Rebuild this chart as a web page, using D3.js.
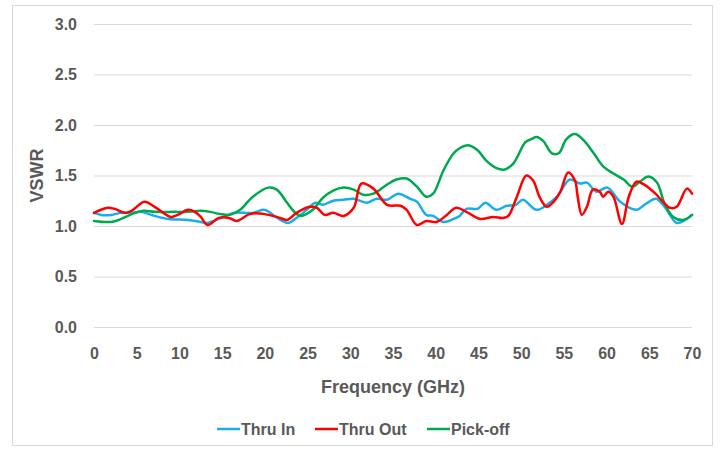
<!DOCTYPE html>
<html>
<head>
<meta charset="utf-8">
<script src="https://cdn.jsdelivr.net/npm/d3@7/dist/d3.min.js"></script>
<style>
  html, body { margin: 0; padding: 0; background: #fff; }
  svg { display: block; font-family: "Liberation Sans", Arial, sans-serif; font-weight: bold; }
</style>
</head>
<body>
<svg id="chart" width="720" height="449"></svg>
<script>
// ---- Data ----
const seriesNames = ["Thru In", "Thru Out", "Pick-off"];
const seriesColors = ["#1AAEE8", "#FF0000", "#00A94F"];

const thruInFreq = [0,0.85,2,3.2,4.5,5.5,7.1,8.7,11,12.5,13.3,14.3,15.2,16.3,18.6,19.8,20.3,21.3,22.7,23.7,24.9,25.9,26.8,28,29.2,30.4,31.9,33.1,34.3,35.6,37,37.8,38.9,39.7,40.9,42.1,42.8,43.6,44.9,45.8,47.1,48.3,49.4,50.2,51.8,53,54.2,55.7,56.9,57.7,58.8,60.1,61.6,63.5,64.6,65.8,66.8,68.2,69.2,70];
const thruIn     = [1.13,1.11,1.11,1.13,1.13,1.14,1.10,1.07,1.06,1.04,1.03,1.06,1.09,1.13,1.13,1.16,1.15,1.09,1.03,1.08,1.16,1.23,1.21,1.25,1.26,1.27,1.23,1.27,1.26,1.32,1.27,1.24,1.11,1.10,1.04,1.07,1.10,1.17,1.17,1.23,1.16,1.20,1.21,1.26,1.16,1.21,1.29,1.46,1.42,1.43,1.34,1.38,1.24,1.16,1.22,1.27,1.19,1.03,1.06,1.11];

const thruOutFreq = [0,1.6,2.4,3.6,4.4,5.9,7.1,9.0,9.8,11,11.8,12.5,13.3,14.6,15.8,16.7,18.3,19.8,21.8,22.6,23.7,25.3,26.1,27,28,29.2,30.4,31.3,32.7,34.3,35.9,36.6,37.8,38.9,40.1,41.3,42.4,43.6,45.2,46.7,47.9,48.5,49.5,50.6,51.4,52.2,53,53.8,54.6,55.5,56.3,56.6,57.1,57.7,58.4,59.2,59.6,60.2,60.8,61.8,62.6,63.5,64.4,65.6,66.6,67.4,68.2,69.4,70];
const thruOut     = [1.13,1.18,1.17,1.13,1.15,1.24,1.19,1.09,1.11,1.16,1.14,1.09,1.01,1.08,1.08,1.05,1.12,1.12,1.08,1.06,1.13,1.19,1.18,1.11,1.13,1.10,1.18,1.42,1.37,1.21,1.20,1.16,1.01,1.05,1.04,1.11,1.18,1.14,1.07,1.09,1.08,1.10,1.29,1.50,1.45,1.28,1.19,1.24,1.34,1.53,1.45,1.30,1.11,1.19,1.36,1.34,1.29,1.34,1.29,1.02,1.29,1.44,1.41,1.33,1.24,1.18,1.19,1.37,1.32];

const pickOffFreq = [0,2,3.2,4.8,5.8,7.1,9.4,11,12.5,13.6,14.7,15.9,17.1,18.6,20.4,21.4,22.6,23.7,24.3,25.6,26.8,28,29.2,30.4,31.5,32.7,34.3,35.4,36.6,37.8,38.9,39.7,40.9,42.1,42.8,43.8,44.9,46,47.2,48.1,49.1,50.5,51.2,51.8,52.6,53.6,54.4,55.3,56.3,57.3,58.5,59.6,60.8,62,63,63.9,64.9,65.9,66.8,67.8,69,70];
const pickOff     = [1.05,1.04,1.07,1.13,1.15,1.14,1.14,1.14,1.15,1.14,1.12,1.11,1.16,1.29,1.38,1.36,1.23,1.12,1.10,1.16,1.28,1.35,1.38,1.36,1.31,1.32,1.41,1.46,1.47,1.39,1.29,1.32,1.55,1.72,1.77,1.80,1.75,1.64,1.57,1.56,1.62,1.83,1.86,1.88,1.84,1.72,1.72,1.86,1.91,1.85,1.72,1.59,1.52,1.46,1.39,1.44,1.49,1.43,1.22,1.09,1.06,1.11];

const xTicks = [0,5,10,15,20,25,30,35,40,45,50,55,60,65,70];
const yTicks = [0,0.5,1.0,1.5,2.0,2.5,3.0];
const xTitle = "Frequency (GHz)";
const yTitle = "VSWR";

// ---- Drawing ----
const svg = d3.select("#chart");
const textColor = "#595959";
const gridColor = "#D9D9D9";

svg.append("rect")
  .attr("x", 12.5).attr("y", 5.5).attr("width", 700).attr("height", 440)
  .attr("fill", "none").attr("stroke", gridColor).attr("stroke-width", 1);

const x = d3.scaleLinear().domain([0, 70]).range([94, 692]);
const y = d3.scaleLinear().domain([0, 3]).range([327, 24]);

// gridlines
const yAxis = d3.axisLeft(y).tickValues(yTicks).tickFormat(d3.format(".1f"))
  .tickSize(-(x.range()[1] - x.range()[0])).tickPadding(17);
const gy = svg.append("g").attr("transform", `translate(${x.range()[0]},0)`).call(yAxis);
gy.select(".domain").remove();
gy.selectAll(".tick line").attr("stroke", gridColor).attr("stroke-width", 1);
gy.selectAll(".tick text").attr("fill", textColor)
  .style("font-size", "16px").style("font-weight", "bold")
  .style("font-family", '"Liberation Sans", Arial, sans-serif');

const xAxis = d3.axisBottom(x).tickValues(xTicks).tickFormat(d3.format("d"))
  .tickSize(0).tickPadding(21);
const gx = svg.append("g").attr("transform", `translate(0,${y(0)})`).call(xAxis);
gx.select(".domain").remove();
gx.selectAll(".tick text").attr("fill", textColor)
  .style("font-size", "16px").style("font-weight", "bold")
  .style("font-family", '"Liberation Sans", Arial, sans-serif');

// axis titles
svg.append("text")
  .attr("x", (x.range()[0] + x.range()[1]) / 2).attr("y", 393)
  .attr("text-anchor", "middle").attr("fill", textColor)
  .style("font-size", "18px").text(xTitle);

svg.append("text")
  .attr("transform", `translate(43,${(y(0) + y(3)) / 2}) rotate(-90)`)
  .attr("text-anchor", "middle").attr("fill", textColor)
  .style("font-size", "18px").text(yTitle);

// lines
const seriesData = [
  thruInFreq.map((f, i) => [f, thruIn[i]]),
  thruOutFreq.map((f, i) => [f, thruOut[i]]),
  pickOffFreq.map((f, i) => [f, pickOff[i]])
];
const line = d3.line().x(d => x(d[0])).y(d => y(d[1])).curve(d3.curveCatmullRom.alpha(0.5));

const drawOrder = [0, 2, 1];
drawOrder.forEach(i => {
  svg.append("path")
    .datum(seriesData[i])
    .attr("fill", "none")
    .attr("stroke", seriesColors[i])
    .attr("stroke-width", 2.5)
    .attr("stroke-linejoin", "round")
    .attr("stroke-linecap", "round")
    .attr("d", line);
});

// legend
const legendX = [217, 315, 427];
const legendY = 429;
seriesNames.forEach((name, i) => {
  const g = svg.append("g").attr("transform", `translate(${legendX[i]},${legendY})`);
  g.append("line").attr("x1", 0).attr("x2", 23).attr("y1", 0).attr("y2", 0)
    .attr("stroke", seriesColors[i]).attr("stroke-width", 2.5);
  g.append("text").attr("x", 24).attr("y", 0).attr("dy", "0.36em")
    .attr("fill", textColor).style("font-size", "16px").text(name);
});
</script>
</body>
</html>
